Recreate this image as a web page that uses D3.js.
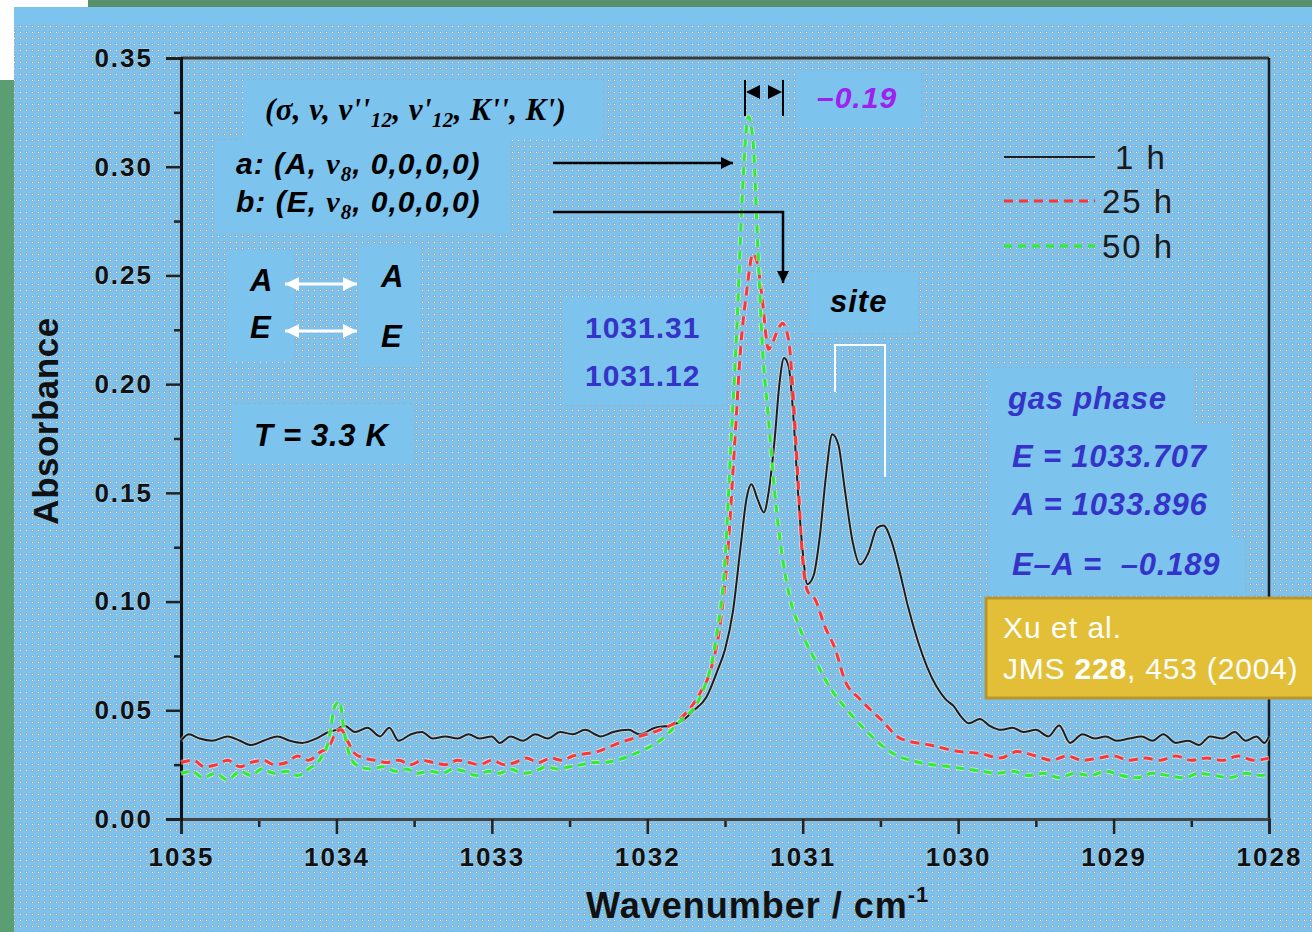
<!DOCTYPE html>
<html>
<head>
<meta charset="utf-8">
<script src="https://cdn.jsdelivr.net/npm/d3@7/dist/d3.min.js"></script>
<style>
  html, body { margin: 0; padding: 0; background: #ffffff; }
  svg { display: block; }
</style>
</head>
<body>
<script>
// Absorbance spectra after 1 h, 25 h and 50 h: [wavenumber cm^-1, absorbance]
const spectrum1h = [
  [1035.00,0.036],[1034.95,0.039],[1034.88,0.037],[1034.80,0.036],[1034.70,0.038],[1034.62,0.036],
  [1034.55,0.034],[1034.47,0.036],[1034.38,0.038],[1034.30,0.036],[1034.22,0.035],[1034.13,0.037],
  [1034.05,0.040],[1034.00,0.041],[1033.95,0.043],[1033.88,0.040],[1033.80,0.042],[1033.72,0.038],
  [1033.66,0.042],[1033.60,0.036],[1033.52,0.039],[1033.45,0.040],[1033.38,0.037],[1033.30,0.038],
  [1033.22,0.037],[1033.15,0.039],[1033.08,0.037],[1033.00,0.038],[1032.95,0.035],[1032.88,0.038],
  [1032.80,0.036],[1032.72,0.039],[1032.64,0.037],[1032.56,0.040],[1032.48,0.039],[1032.40,0.041],
  [1032.30,0.038],[1032.22,0.040],[1032.12,0.041],[1032.05,0.039],[1031.95,0.042],[1031.85,0.043],
  [1031.78,0.045],[1031.70,0.050],[1031.62,0.056],[1031.55,0.068],[1031.50,0.078],[1031.45,0.095],
  [1031.40,0.125],[1031.36,0.148],[1031.33,0.154],[1031.29,0.147],[1031.25,0.141],[1031.22,0.150],
  [1031.18,0.175],[1031.15,0.200],[1031.12,0.212],[1031.09,0.208],[1031.06,0.185],[1031.03,0.150],
  [1031.00,0.123],[1030.97,0.108],[1030.93,0.112],[1030.89,0.130],[1030.85,0.158],[1030.81,0.177],
  [1030.77,0.172],[1030.73,0.152],[1030.68,0.128],[1030.63,0.117],[1030.58,0.122],[1030.52,0.134],
  [1030.48,0.135],[1030.43,0.128],[1030.38,0.115],[1030.32,0.097],[1030.26,0.082],[1030.20,0.070],
  [1030.14,0.061],[1030.08,0.055],[1030.03,0.052],[1029.98,0.047],[1029.93,0.044],[1029.86,0.046],
  [1029.80,0.043],[1029.72,0.041],[1029.65,0.042],[1029.58,0.040],[1029.50,0.041],[1029.42,0.038],
  [1029.35,0.043],[1029.28,0.035],[1029.20,0.039],[1029.12,0.037],[1029.05,0.038],[1028.98,0.036],
  [1028.90,0.037],[1028.82,0.038],[1028.75,0.036],[1028.68,0.039],[1028.60,0.035],[1028.52,0.036],
  [1028.45,0.034],[1028.38,0.038],[1028.30,0.037],[1028.22,0.040],[1028.15,0.036],[1028.08,0.038],
  [1028.03,0.035],[1028.00,0.038]
];

const spectrum25h = [
  [1035.00,0.026],[1034.92,0.027],[1034.85,0.024],[1034.77,0.025],[1034.70,0.027],[1034.62,0.024],
  [1034.55,0.026],[1034.47,0.027],[1034.40,0.025],[1034.32,0.026],[1034.25,0.029],[1034.18,0.027],
  [1034.10,0.031],[1034.05,0.033],[1034.00,0.040],[1033.97,0.041],[1033.93,0.036],[1033.88,0.030],
  [1033.82,0.028],[1033.75,0.027],[1033.68,0.026],[1033.60,0.027],[1033.52,0.025],[1033.45,0.027],
  [1033.38,0.026],[1033.30,0.025],[1033.22,0.027],[1033.15,0.026],[1033.08,0.025],[1033.00,0.027],
  [1032.92,0.025],[1032.85,0.026],[1032.78,0.028],[1032.70,0.026],[1032.62,0.028],[1032.55,0.027],
  [1032.48,0.029],[1032.40,0.030],[1032.32,0.031],[1032.25,0.033],[1032.18,0.035],[1032.05,0.038],
  [1031.92,0.041],[1031.79,0.046],[1031.66,0.058],[1031.59,0.069],[1031.53,0.090],[1031.48,0.125],
  [1031.44,0.170],[1031.40,0.216],[1031.36,0.243],[1031.32,0.260],[1031.29,0.255],[1031.26,0.239],
  [1031.22,0.216],[1031.20,0.218],[1031.16,0.225],[1031.13,0.228],[1031.09,0.220],[1031.06,0.193],
  [1031.03,0.156],[1031.00,0.119],[1030.97,0.105],[1030.92,0.101],[1030.86,0.089],[1030.79,0.078],
  [1030.73,0.064],[1030.63,0.055],[1030.50,0.046],[1030.37,0.037],[1030.18,0.034],[1029.99,0.031],
  [1029.85,0.030],[1029.73,0.028],[1029.62,0.031],[1029.50,0.029],[1029.40,0.027],[1029.30,0.029],
  [1029.20,0.027],[1029.10,0.028],[1029.00,0.029],[1028.90,0.027],[1028.80,0.028],[1028.70,0.027],
  [1028.60,0.029],[1028.50,0.027],[1028.40,0.028],[1028.30,0.027],[1028.20,0.029],[1028.10,0.027],
  [1028.00,0.028]
];

const spectrum50h = [
  [1035.00,0.021],[1034.93,0.022],[1034.86,0.019],[1034.78,0.021],[1034.70,0.018],[1034.62,0.022],
  [1034.55,0.020],[1034.48,0.023],[1034.40,0.021],[1034.32,0.022],[1034.25,0.020],[1034.18,0.023],
  [1034.10,0.028],[1034.05,0.036],[1034.01,0.052],[1033.98,0.054],[1033.95,0.040],[1033.90,0.027],
  [1033.85,0.024],[1033.78,0.023],[1033.70,0.024],[1033.62,0.022],[1033.55,0.023],[1033.48,0.021],
  [1033.40,0.022],[1033.32,0.021],[1033.25,0.023],[1033.18,0.022],[1033.10,0.020],[1033.02,0.022],
  [1032.95,0.021],[1032.88,0.023],[1032.80,0.021],[1032.72,0.022],[1032.65,0.024],[1032.58,0.023],
  [1032.50,0.024],[1032.42,0.025],[1032.35,0.026],[1032.28,0.026],[1032.20,0.027],[1032.05,0.031],
  [1031.92,0.036],[1031.79,0.045],[1031.66,0.056],[1031.56,0.082],[1031.50,0.119],[1031.46,0.175],
  [1031.42,0.232],[1031.39,0.285],[1031.35,0.323],[1031.32,0.312],[1031.29,0.265],[1031.26,0.218],
  [1031.22,0.184],[1031.18,0.150],[1031.13,0.120],[1031.08,0.101],[1031.02,0.088],[1030.92,0.073],
  [1030.82,0.060],[1030.70,0.049],[1030.57,0.039],[1030.44,0.031],[1030.25,0.026],[1030.05,0.024],
  [1029.95,0.023],[1029.85,0.022],[1029.75,0.021],[1029.65,0.022],[1029.55,0.020],[1029.45,0.021],
  [1029.35,0.019],[1029.25,0.021],[1029.15,0.020],[1029.05,0.022],[1028.95,0.020],[1028.85,0.019],
  [1028.75,0.021],[1028.65,0.020],[1028.55,0.019],[1028.45,0.021],[1028.35,0.020],[1028.25,0.019],
  [1028.15,0.021],[1028.05,0.020],[1028.00,0.021]
];

const seriesNames = ["1 h", "25 h", "50 h"];
const xTicks = [1035, 1034, 1033, 1032, 1031, 1030, 1029, 1028];
const yTicks = [0.00, 0.05, 0.10, 0.15, 0.20, 0.25, 0.30, 0.35];

const W = 1312, H = 932;
const plot = { left: 181, right: 1269, top: 58, bottom: 819 };

const svg = d3.select("body").append("svg").attr("width", W).attr("height", H);
const defs = svg.append("defs");

// halftone screen used on the slide background
const pat = defs.append("pattern").attr("id", "screen").attr("patternUnits", "userSpaceOnUse")
  .attr("width", 6).attr("height", 6);
pat.append("rect").attr("width", 6).attr("height", 6).attr("fill", "#7cc2ec");
pat.append("rect").attr("x", 1).attr("y", 1).attr("width", 3).attr("height", 3).attr("fill", "#93b3c8");
pat.append("rect").attr("x", 2).attr("y", 2).attr("width", 1).attr("height", 1).attr("fill", "#e6f3fb");

defs.append("marker").attr("id", "headBlack").attr("viewBox", "0 0 10 10")
  .attr("refX", 10).attr("refY", 5).attr("markerWidth", 12).attr("markerHeight", 12)
  .attr("markerUnits", "userSpaceOnUse").attr("orient", "auto")
  .append("path").attr("d", "M0,0 L10,5 L0,10 Z").attr("fill", "#000");
defs.append("marker").attr("id", "headWhite").attr("viewBox", "0 0 10 10")
  .attr("refX", 10).attr("refY", 5).attr("markerWidth", 14).attr("markerHeight", 14)
  .attr("markerUnits", "userSpaceOnUse").attr("orient", "auto-start-reverse")
  .append("path").attr("d", "M0,0 L10,5 L0,10 Z").attr("fill", "#fff");

// slide frame
svg.append("rect").attr("x", 0).attr("y", 0).attr("width", W).attr("height", H).attr("fill", "#ffffff");
svg.append("rect").attr("x", 88).attr("y", 0).attr("width", W - 88).attr("height", 8).attr("fill", "#55906a");
svg.append("rect").attr("x", 0).attr("y", 80).attr("width", 14).attr("height", H - 80).attr("fill", "#5a9e72");
svg.append("rect").attr("x", 14).attr("y", 7).attr("width", W - 14).attr("height", H - 7).attr("fill", "#7cc3ee");
svg.append("rect").attr("x", 14).attr("y", 25).attr("width", W - 14).attr("height", H - 25).attr("fill", "url(#screen)");

const x = d3.scaleLinear().domain([1035, 1028]).range([plot.left, plot.right]);
const y = d3.scaleLinear().domain([0, 0.35]).range([plot.bottom, plot.top]);

const font = "'Liberation Sans', Arial, sans-serif";
const serif = "'Liberation Serif', 'Times New Roman', serif";

// plain text panels sitting on the screened background
function panel(x0, y0, w, h) {
  svg.append("rect").attr("x", x0).attr("y", y0).attr("width", w).attr("height", h).attr("fill", "#7cc3ee");
}
panel(243, 80, 360, 60);
panel(215, 140, 295, 93);
panel(797, 72, 124, 56);
panel(227, 250, 66, 112);
panel(359, 247, 62, 120);
panel(232, 404, 180, 60);
panel(563, 297, 163, 108);
panel(810, 272, 107, 61);
panel(987, 368, 205, 58);
panel(990, 425, 242, 116);
panel(990, 540, 255, 56);

// frame lines
svg.append("line").attr("x1", plot.left).attr("x2", plot.right).attr("y1", plot.top).attr("y2", plot.top)
  .attr("stroke", "#3a3a3a").attr("stroke-width", 3);
svg.append("line").attr("x1", plot.right).attr("x2", plot.right).attr("y1", plot.top).attr("y2", plot.bottom)
  .attr("stroke", "#1a1a1a").attr("stroke-width", 2.5);

// axes
const xAxis = d3.axisBottom(x).tickValues(xTicks).tickFormat(d3.format("d")).tickSize(15).tickPadding(14);
const xMinor = d3.axisBottom(x).tickValues(d3.range(1034.5, 1028, -1)).tickFormat("").tickSize(8);
const yAxis = d3.axisLeft(y).tickValues(yTicks).tickFormat(d3.format(".2f")).tickSize(15).tickPadding(13);
const yMinor = d3.axisLeft(y).tickValues(d3.range(0.025, 0.35, 0.05)).tickFormat("").tickSize(7);

function styleAxis(g) {
  g.select(".domain").attr("stroke", "#111").attr("stroke-width", 3);
  g.selectAll(".tick line").attr("stroke", "#222").attr("stroke-width", 2.5);
  g.selectAll(".tick text").attr("fill", "#111").attr("font-family", font)
    .attr("font-weight", "bold").attr("font-size", 26).attr("letter-spacing", 2)
    .attr("stroke", "rgba(255,255,255,0.35)").attr("stroke-width", 1).attr("paint-order", "stroke");
}
svg.append("g").attr("transform", `translate(0,${plot.bottom})`).call(xMinor).call(styleAxis)
  .select(".domain").remove();
svg.append("g").attr("transform", `translate(0,${plot.bottom})`).call(xAxis).call(styleAxis)
  .select(".domain").attr("stroke", "#444");
svg.append("g").attr("transform", `translate(${plot.left},0)`).call(yMinor).call(styleAxis)
  .select(".domain").remove();
svg.append("g").attr("transform", `translate(${plot.left},0)`).call(yAxis).call(styleAxis);

// axis titles
svg.append("text").attr("transform", "translate(58,421) rotate(-90)").attr("text-anchor", "middle")
  .attr("font-family", font).attr("font-size", 35).attr("font-weight", "bold").attr("fill", "#111")
  .attr("letter-spacing", 0.5).text("Absorbance");
const xt = svg.append("text").attr("x", 586).attr("y", 918)
  .attr("font-family", font).attr("font-size", 36).attr("font-weight", "bold").attr("fill", "#111")
  .attr("letter-spacing", 1);
xt.append("tspan").text("Wavenumber / cm");
xt.append("tspan").attr("dy", -16).attr("font-size", 22).text("-1");

// spectra
const line = d3.line().x(d => x(d[0])).y(d => y(d[1])).curve(d3.curveMonotoneX);
const styles = [
  { data: spectrum1h, color: "#1e1e1e", dash: null, width: 2 },
  { data: spectrum25h, color: "#ff3434", dash: "9,6", width: 3 },
  { data: spectrum50h, color: "#2cf02c", dash: "8,6", width: 3 }
];
styles.forEach(s => {
  if (s.dash) {
    svg.append("path").datum(s.data).attr("d", line).attr("fill", "none")
      .attr("stroke", "rgba(255,235,235,0.55)").attr("stroke-width", s.width + 2)
      .attr("stroke-dasharray", s.dash);
  } else {
    svg.append("path").datum(s.data).attr("d", line).attr("fill", "none")
      .attr("stroke", "rgba(225,225,225,0.55)").attr("stroke-width", s.width + 2);
  }
  svg.append("path").datum(s.data).attr("d", line).attr("fill", "none")
    .attr("stroke", s.color).attr("stroke-width", s.width)
    .attr("stroke-dasharray", s.dash);
});

// legend
const legY = [157, 201, 246];
styles.forEach((s, i) => {
  svg.append("line").attr("x1", 1004).attr("x2", 1095).attr("y1", legY[i]).attr("y2", legY[i])
    .attr("stroke", s.color).attr("stroke-width", s.width).attr("stroke-dasharray", s.dash);
  svg.append("text").attr("x", i === 0 ? 1115 : 1102).attr("y", legY[i] + 12)
    .attr("font-family", font).attr("font-size", 33).attr("letter-spacing", 2)
    .attr("fill", "#1a1a1a").text(seriesNames[i]);
});

// quantum-number header
const qn = svg.append("text").attr("x", 265).attr("y", 120).attr("font-family", serif)
  .attr("font-style", "italic").attr("font-weight", "bold").attr("font-size", 31).attr("fill", "#000")
  .attr("letter-spacing", 0.4);
qn.append("tspan").text("(σ, v, v''");
qn.append("tspan").attr("dy", 7).attr("font-size", 21).text("12");
qn.append("tspan").attr("dy", -7).text(", v'");
qn.append("tspan").attr("dy", 7).attr("font-size", 21).text("12");
qn.append("tspan").attr("dy", -7).text(", K'', K')");

[["a: (A, ", 174], ["b: (E, ", 212]].forEach(([lab, yy]) => {
  const t = svg.append("text").attr("x", 236).attr("y", yy).attr("font-family", font)
    .attr("font-style", "italic").attr("font-weight", "bold").attr("font-size", 30).attr("fill", "#000")
    .attr("letter-spacing", 1);
  t.append("tspan").text(lab);
  t.append("tspan").attr("font-family", serif).text("v");
  t.append("tspan").attr("dy", 7).attr("font-size", 21).attr("font-family", serif).text("8");
  t.append("tspan").attr("dy", -7).text(", 0,0,0,0)");
});

// assignment arrows
svg.append("line").attr("x1", 553).attr("y1", 163).attr("x2", 733).attr("y2", 163)
  .attr("stroke", "#000").attr("stroke-width", 2.5).attr("marker-end", "url(#headBlack)");
svg.append("path").attr("d", "M553,212 L783,212 L783,283").attr("fill", "none")
  .attr("stroke", "#000").attr("stroke-width", 2.5).attr("marker-end", "url(#headBlack)");

// splitting marker
svg.append("line").attr("x1", 745).attr("x2", 745).attr("y1", 80).attr("y2", 116).attr("stroke", "#000").attr("stroke-width", 2);
svg.append("line").attr("x1", 783).attr("x2", 783).attr("y1", 80).attr("y2", 116).attr("stroke", "#000").attr("stroke-width", 2);
svg.append("path").attr("d", "M746,92 L760,85 L760,99 Z").attr("fill", "#000");
svg.append("path").attr("d", "M782,92 L768,85 L768,99 Z").attr("fill", "#000");
svg.append("text").attr("x", 817).attr("y", 108).attr("font-family", font).attr("font-style", "italic")
  .attr("font-weight", "bold").attr("font-size", 30).attr("letter-spacing", 1)
  .attr("fill", "#a020f0").text("–0.19");

// symmetry correlation
const sym = [["A", 250, 291], ["E", 250, 338], ["A", 381, 287], ["E", 381, 347]];
sym.forEach(([s, xx, yy]) => svg.append("text").attr("x", xx).attr("y", yy).attr("font-family", font)
  .attr("font-style", "italic").attr("font-weight", "bold").attr("font-size", 31).attr("fill", "#000").text(s));
[284, 331].forEach(yy => svg.append("line").attr("x1", 285).attr("x2", 357).attr("y1", yy).attr("y2", yy)
  .attr("stroke", "#fff").attr("stroke-width", 3)
  .attr("marker-start", "url(#headWhite)").attr("marker-end", "url(#headWhite)"));

svg.append("text").attr("x", 254).attr("y", 446).attr("font-family", font).attr("font-style", "italic")
  .attr("font-weight", "bold").attr("font-size", 31).attr("letter-spacing", 0.7)
  .attr("fill", "#000").text("T = 3.3 K");

// peak positions
[["1031.31", 338], ["1031.12", 386]].forEach(([s, yy]) => svg.append("text").attr("x", 585).attr("y", yy)
  .attr("font-family", font).attr("font-weight", "bold").attr("font-size", 30).attr("letter-spacing", 1)
  .attr("fill", "#3434c8").text(s));

// site splitting
svg.append("text").attr("x", 830).attr("y", 312).attr("font-family", font).attr("font-style", "italic")
  .attr("font-weight", "bold").attr("font-size", 31).attr("letter-spacing", 1)
  .attr("fill", "#000").text("site");
svg.append("path").attr("d", "M835,392 L835,345 L885,345 L885,477").attr("fill", "none")
  .attr("stroke", "#fff").attr("stroke-width", 2);

// gas phase values
[["gas phase", 1008, 409], ["E = 1033.707", 1012, 467], ["A = 1033.896", 1012, 515], ["E–A =  –0.189", 1012, 575]]
  .forEach(([s, xx, yy]) => svg.append("text").attr("x", xx).attr("y", yy).attr("font-family", font)
    .attr("font-style", "italic").attr("font-weight", "bold").attr("font-size", 31).attr("letter-spacing", 0.8)
    .attr("fill", "#3434c8").style("white-space", "pre").text(s));

// reference box
svg.append("rect").attr("x", 986).attr("y", 598).attr("width", 330).attr("height", 100)
  .attr("fill", "#e3bf37").attr("stroke", "#b8962c").attr("stroke-width", 3);
svg.append("text").attr("x", 1003).attr("y", 638).attr("font-family", font).attr("font-size", 30)
  .attr("letter-spacing", 1).attr("fill", "#fff").text("Xu et al.");
const ref = svg.append("text").attr("x", 1003).attr("y", 679).attr("font-family", font).attr("font-size", 30)
  .attr("letter-spacing", 0.8).attr("fill", "#fff");
ref.append("tspan").text("JMS ");
ref.append("tspan").attr("font-weight", "bold").text("228");
ref.append("tspan").text(", 453 (2004)");
</script>
</body>
</html>
